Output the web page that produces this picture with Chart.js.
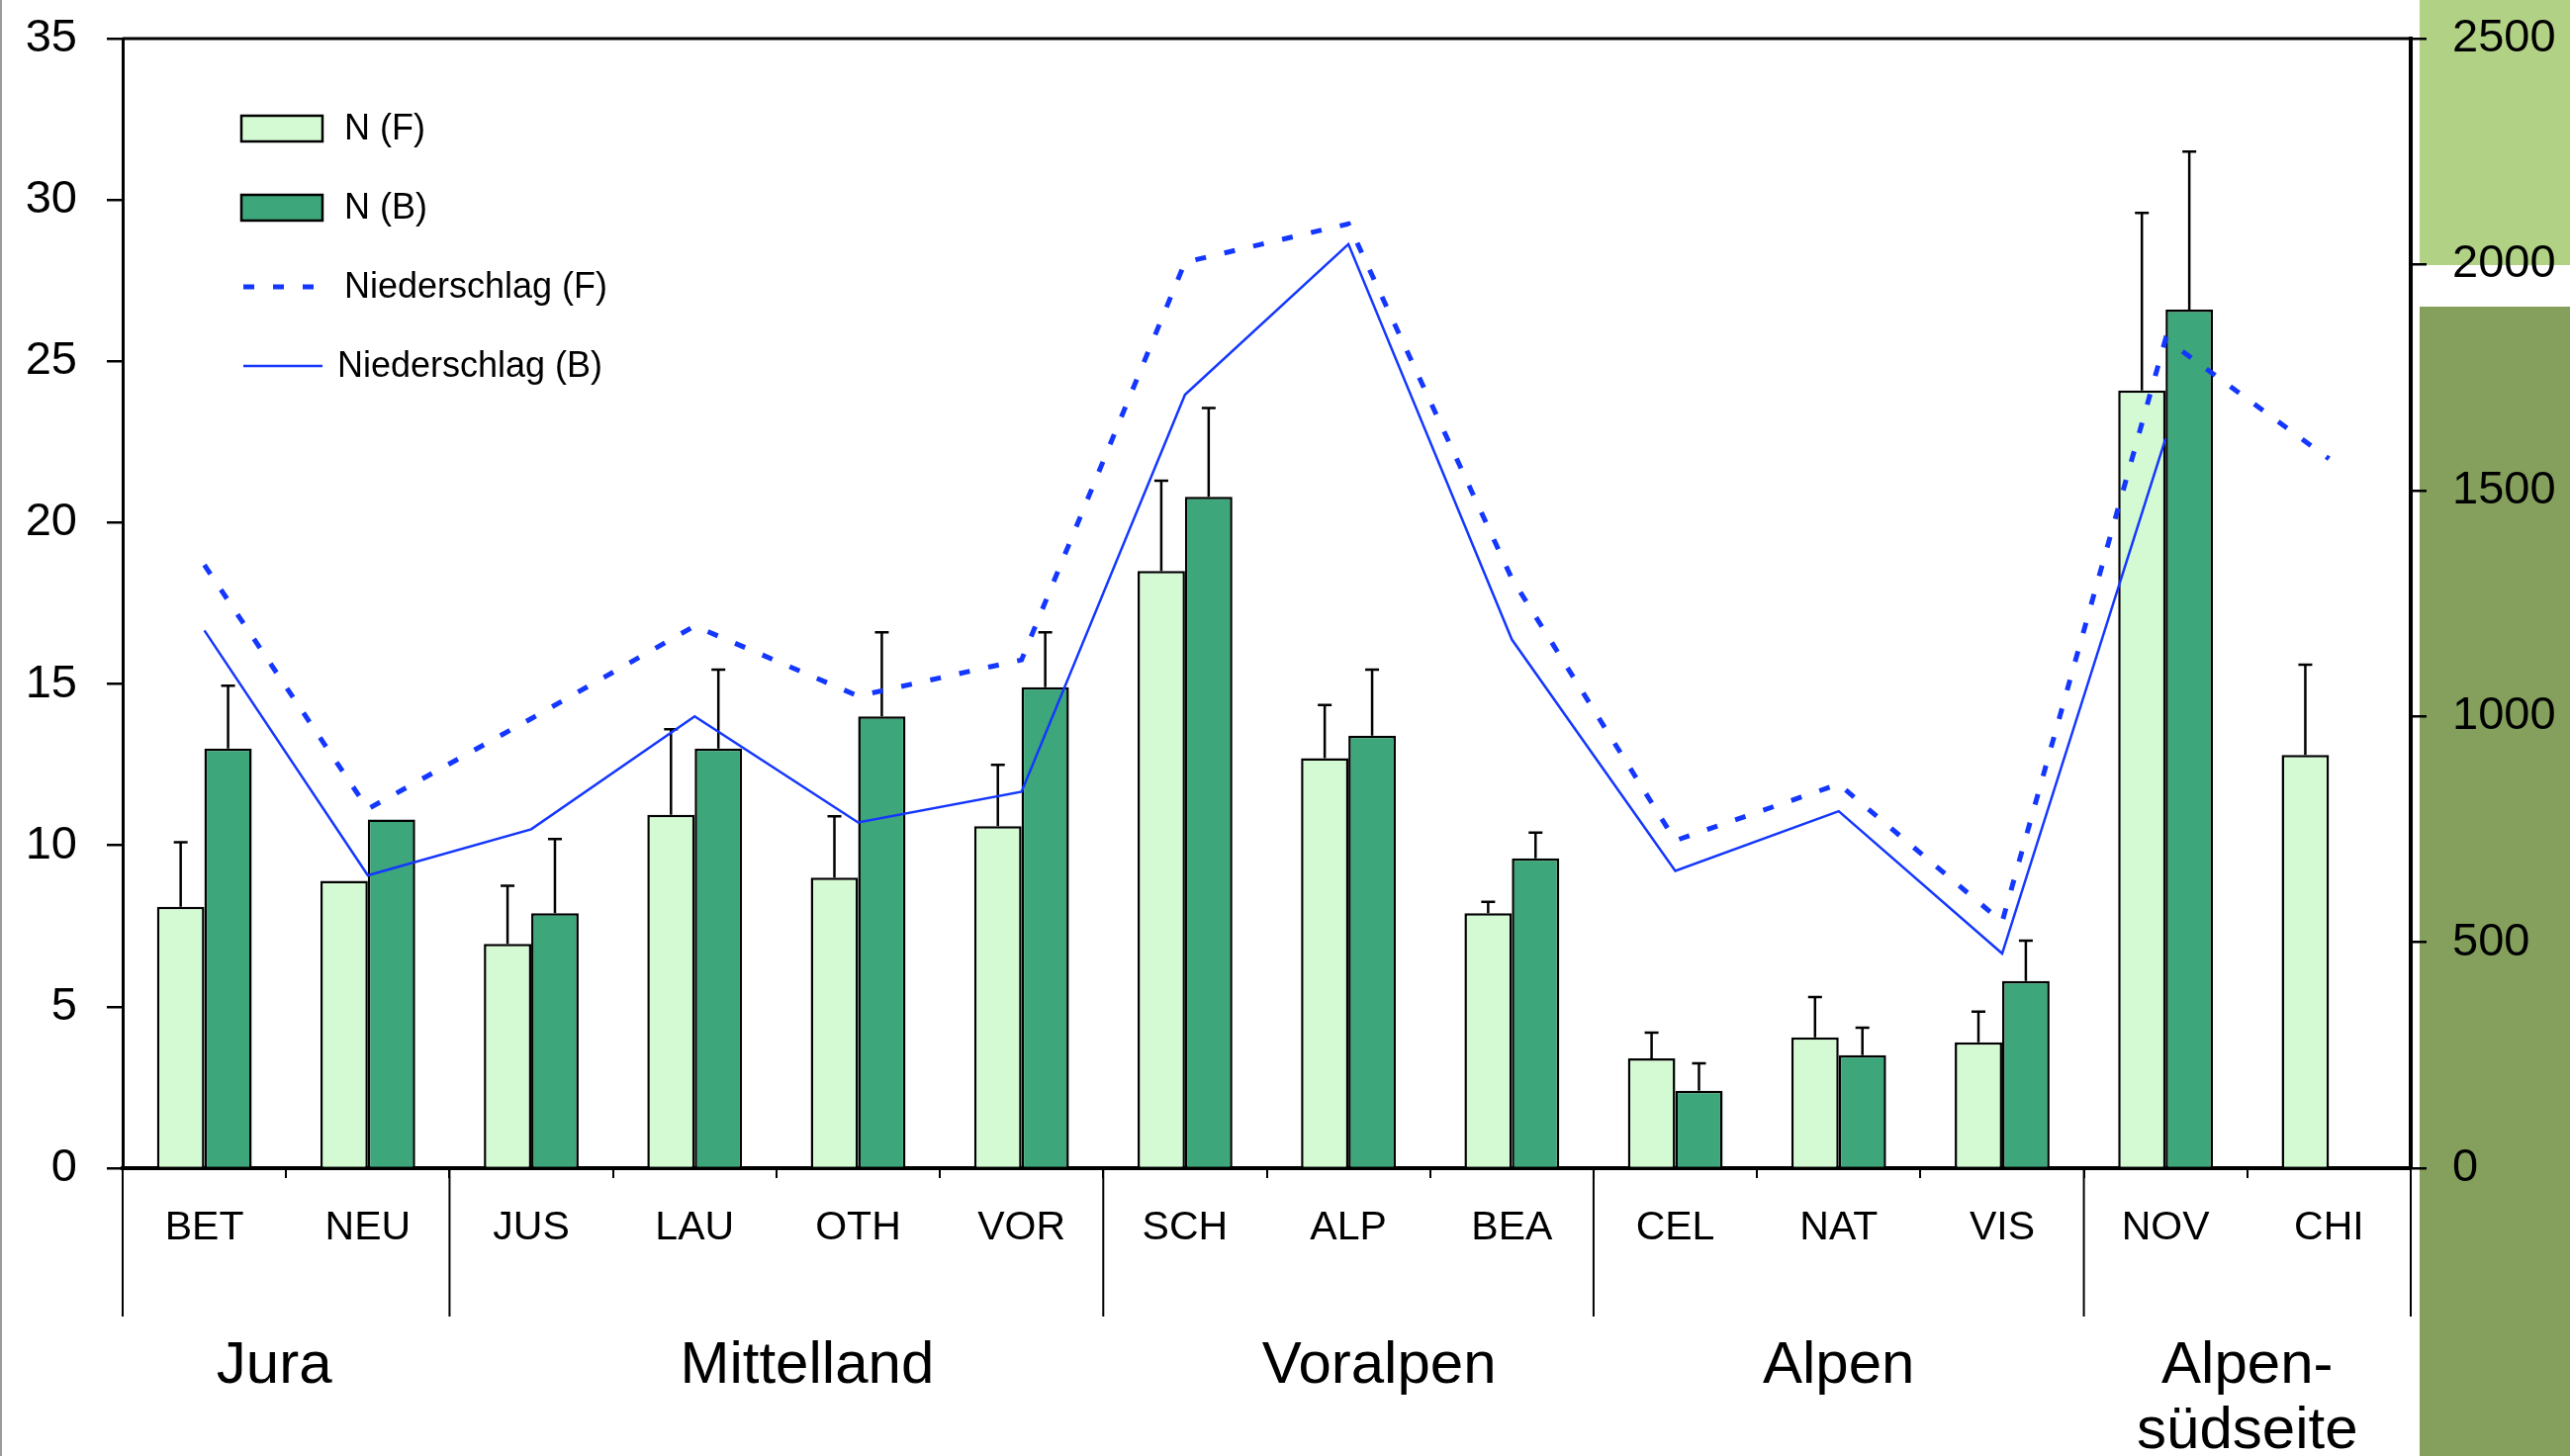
<!DOCTYPE html>
<html>
<head>
<meta charset="utf-8">
<script src="https://cdn.jsdelivr.net/npm/chart.js@4"></script>
<style>
  html, body { margin: 0; padding: 0; background: #fff; }
  #wrap { width: 2598px; height: 1472px; position: relative; }
</style>
</head>
<body>
<div id="wrap"><canvas id="chart"></canvas></div>
<script>
// Sites and regions
const sites = ["BET", "NEU", "JUS", "LAU", "OTH", "VOR", "SCH", "ALP", "BEA", "CEL", "NAT", "VIS", "NOV", "CHI"];
const regionNames = [["Jura"], ["Mittelland"], ["Voralpen"], ["Alpen"], ["Alpen-", "südseite"]];
const regionSizes = [2, 4, 3, 3, 2];

// N values (left axis) and upper error
const nF = [8.1, 8.9, 6.95, 10.95, 9.0, 10.6, 18.5, 12.7, 7.9, 3.4, 4.05, 3.9, 24.1, 12.8];
const nB = [13.0, 10.8, 7.9, 13.0, 14.0, 14.9, 20.8, 13.4, 9.6, 2.4, 3.5, 5.8, 26.6, null];
const errF = [2.0, 0, 1.8, 2.65, 1.9, 1.9, 2.8, 1.65, 0.35, 0.8, 1.25, 0.95, 5.5, 2.8];
const errB = [1.95, 0, 2.3, 2.45, 2.6, 1.7, 2.75, 2.05, 0.8, 0.85, 0.85, 1.25, 4.9, null];

// Niederschlag (right axis)
const rainF = [1335, 795, 995, 1200, 1045, 1125, 2005, 2090, 1305, 725, 850, 545, 1835, 1570];
const rainB = [1190, 648, 750, 1000, 765, 833, 1712, 2045, 1170, 658, 790, 475, 1615, null];

const leftMax = 35, leftStep = 5;
const rightMax = 2500, rightStep = 500;

const FONT = '"Liberation Sans", Arial, sans-serif';
const lightGreen = "#d4fad4";
const darkGreen = "#3da67a";
const blue = "#1437ff";

const canvas = document.getElementById("chart");
canvas.width = 2598;
canvas.height = 1472;

// hand-placed nudges of the region captions (px)
const captionShift = [-12, 31, 31, 0, 0];

function fixWidth(w) {
    return s => { s.width = w; s.paddingTop = 0; s.paddingBottom = 0; };
}

// extra drawing: side panel, error bars, group labels, legend
const decor = {
    id: "decor",
    beforeDraw(chart) {
        const ctx = chart.ctx;
        ctx.save();
        ctx.fillStyle = "#b1d185";
        ctx.fillRect(2446, 0, 152, 268);
        ctx.fillStyle = "#84a05c";
        ctx.fillRect(2446, 310, 152, 1162);
        ctx.fillStyle = "#9a9a9a";
        ctx.fillRect(0, 0, 2, 1472);
        ctx.restore();
    },
    afterDatasetDraw(chart, args) {
        const errs = [errF, errB][args.index];
        if (!errs) return;
        const ctx = chart.ctx;
        const y = chart.scales.y;
        ctx.save();
        ctx.strokeStyle = "#000";
        ctx.lineWidth = 2.5;
        args.meta.data.forEach((bar, i) => {
            const v = chart.data.datasets[args.index].data[i];
            if (v == null || !errs[i]) return;
            const top = y.getPixelForValue(v + errs[i]);
            ctx.beginPath();
            ctx.moveTo(bar.x, bar.y);
            ctx.lineTo(bar.x, top);
            ctx.moveTo(bar.x - 7, top);
            ctx.lineTo(bar.x + 7, top);
            ctx.stroke();
        });
        ctx.restore();
    },
    afterDraw(chart) {
        const ctx = chart.ctx;
        const area = chart.chartArea;
        const x = chart.scales.x;
        ctx.save();
        ctx.strokeStyle = "#000";
        // top frame line
        ctx.lineWidth = 3;
        ctx.beginPath();
        ctx.moveTo(area.left, area.top);
        ctx.lineTo(area.right, area.top);
        ctx.stroke();
        // region separators and labels
        ctx.lineWidth = 2;
        let start = 0;
        const bounds = [0];
        regionSizes.forEach(n => { start += n; bounds.push(start); });
        bounds.forEach(b => {
            const px = x.getPixelForValue(b - 0.5);
            ctx.beginPath();
            ctx.moveTo(px, area.bottom);
            ctx.lineTo(px, 1331);
            ctx.stroke();
        });
        ctx.fillStyle = "#000";
        ctx.font = "60px " + FONT;
        ctx.textAlign = "center";
        ctx.textBaseline = "middle";
        regionNames.forEach((lines, k) => {
            const cx = (x.getPixelForValue(bounds[k] - 0.5) + x.getPixelForValue(bounds[k + 1] - 0.5)) / 2 + captionShift[k];
            lines.forEach((t, j) => ctx.fillText(t, cx, 1381 + j * 66));
        });
        // legend
        ctx.font = "36px " + FONT;
        ctx.textAlign = "left";
        const rows = [130, 210, 290, 370];
        chart.data.datasets.forEach((ds, i) => {
            const yy = rows[i];
            if (ds.type === "line") {
                ctx.strokeStyle = ds.borderColor;
                ctx.lineWidth = ds.borderWidth;
                ctx.setLineDash(ds.borderDash || []);
                ctx.beginPath();
                ctx.moveTo(246, yy);
                ctx.lineTo(326, yy);
                ctx.stroke();
                ctx.setLineDash([]);
            } else {
                ctx.fillStyle = ds.backgroundColor;
                ctx.fillRect(244, yy - 13, 82, 26);
                ctx.strokeStyle = "#000";
                ctx.lineWidth = 2.5;
                ctx.strokeRect(244, yy - 13, 82, 26);
            }
            ctx.fillStyle = "#000";
            ctx.fillText(ds.label, i === 3 ? 341 : 348, yy + 1);
        });
        ctx.restore();
    }
};

new Chart(canvas, {
    type: "bar",
    data: {
        labels: sites,
        datasets: [
            { label: "N (F)", data: nF, backgroundColor: lightGreen, borderColor: "#000", borderWidth: 2.5, yAxisID: "y", order: 2, barPercentage: 1, categoryPercentage: 0.58 },
            { label: "N (B)", data: nB, backgroundColor: darkGreen, borderColor: "#000", borderWidth: 2.5, yAxisID: "y", order: 2, barPercentage: 1, categoryPercentage: 0.58 },
            { type: "line", label: "Niederschlag (F)", data: rainF, borderColor: blue, borderWidth: 5, borderDash: [11, 19], pointRadius: 0, tension: 0, yAxisID: "y2", order: 1 },
            { type: "line", label: "Niederschlag (B)", data: rainB, borderColor: blue, borderWidth: 2.5, pointRadius: 0, tension: 0, yAxisID: "y2", order: 1 }
        ]
    },
    options: {
        responsive: false,
        animation: false,
        layout: { padding: { top: 39 } },
        plugins: { legend: { display: false }, tooltip: { enabled: false } },
        scales: {
            x: {
                offset: true,
                grid: { offset: true, drawOnChartArea: false, tickLength: 10, color: "#000", lineWidth: 2 },
                border: { color: "#000", width: 4 },
                ticks: { color: "#000", font: { family: FONT, size: 41 }, padding: 26, maxRotation: 0 },
                afterFit: s => { s.height = 291; }
            },
            y: {
                position: "left",
                min: 0, max: leftMax,
                grid: { drawOnChartArea: false, tickLength: 16, color: "#000", lineWidth: 2.5 },
                border: { color: "#000", width: 3 },
                ticks: { stepSize: leftStep, color: "#000", font: { family: FONT, size: 47 }, padding: 30 },
                afterFit: fixWidth(124)
            },
            y2: {
                position: "right",
                min: 0, max: rightMax,
                grid: { drawOnChartArea: false, tickLength: 16, color: "#000", lineWidth: 2.5 },
                border: { color: "#000", width: 4 },
                ticks: { stepSize: rightStep, color: "#000", font: { family: FONT, size: 47 }, padding: 26, callback: v => String(v) },
                afterFit: fixWidth(161)
            }
        }
    },
    plugins: [decor]
});
</script>
</body>
</html>
